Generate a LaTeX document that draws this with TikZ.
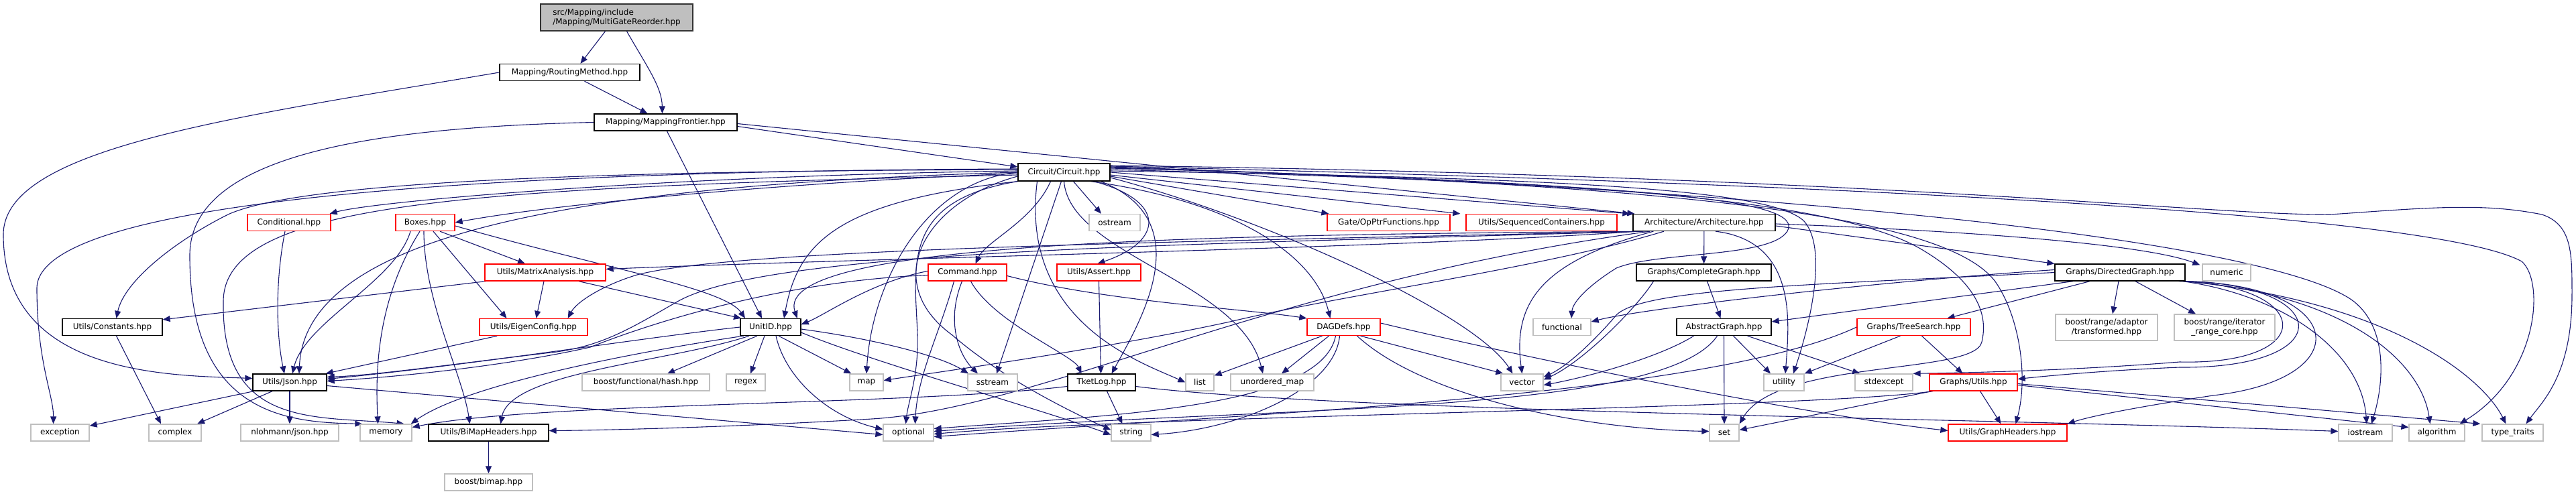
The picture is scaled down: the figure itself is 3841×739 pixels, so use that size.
\documentclass[tikz,border=0pt]{standalone}
\usepackage{fontspec}
\setmainfont{DejaVu Sans}
\usetikzlibrary{arrows.meta,backgrounds}
\definecolor{edgecol}{HTML}{191970}
\definecolor{sysgray}{HTML}{BFBFBF}
\definecolor{rootfill}{HTML}{BFBFBF}
\definecolor{truncred}{HTML}{FF0000}
\tikzset{
  dep/.style={draw=edgecol, line width=1.1pt, -{Triangle[length=11pt,width=9pt]}},
  nbox/.style={draw, line width=1.3pt, fill=white, inner sep=0pt, minimum height=25pt,
    font=\fontsize{12}{14}\selectfont, align=center},
  docbox/.style={nbox, draw=black},
  truncbox/.style={nbox, draw=truncred},
  sysbox/.style={nbox, draw=sysgray},
  rootbox/.style={nbox, draw=black!80, fill=rootfill, align=left, minimum height=40pt},
}
\begin{document}
\begin{tikzpicture}[x=1pt,y=-1pt]
\useasboundingbox (0,0) rectangle (3841,739);
% ---------- nodes ----------
\node[rootbox, minimum width=227pt] (root) at (919.5,26) {src/Mapping/include\\/Mapping/MultiGateReorder.hpp};
\node[docbox, minimum width=209pt] (rm) at (849.5,108) {Mapping/RoutingMethod.hpp};
\node[docbox, minimum width=213pt] (mf) at (992.5,182.5) {Mapping/MappingFrontier.hpp};
\node[docbox, minimum width=137pt, minimum height=26pt] (circ) at (1586.5,257) {Circuit/Circuit.hpp};
\node[truncbox, minimum width=124pt] (cond) at (431,332) {Conditional.hpp};
\node[truncbox, minimum width=88pt] (boxes) at (634,332) {Boxes.hpp};
\node[sysbox, minimum width=76pt] (ostream) at (1662,332) {ostream};
\node[truncbox, minimum width=183pt] (opptr) at (2070.5,332) {Gate/OpPtrFunctions.hpp};
\node[truncbox, minimum width=225pt] (seqc) at (2298.5,332) {Utils/SequencedContainers.hpp};
\node[docbox, minimum width=212pt] (arch) at (2541,332) {Architecture/Architecture.hpp};
\node[truncbox, minimum width=180pt] (matrix) at (813,406.5) {Utils/MatrixAnalysis.hpp};
\node[truncbox, minimum width=117pt] (command) at (1442.5,406.5) {Command.hpp};
\node[truncbox, minimum width=125pt] (assert) at (1638.5,406.5) {Utils/Assert.hpp};
\node[docbox, minimum width=201pt] (complete) at (2540.5,406.5) {Graphs/CompleteGraph.hpp};
\node[docbox, minimum width=194pt] (directed) at (3161,406.5) {Graphs/DirectedGraph.hpp};
\node[sysbox, minimum width=72pt] (numeric) at (3320,406.5) {numeric};
\node[docbox, minimum width=149pt] (constants) at (167.5,488) {Utils/Constants.hpp};
\node[truncbox, minimum width=161pt] (eigen) at (795.5,488) {Utils/EigenConfig.hpp};
\node[docbox, minimum width=90pt] (unitid) at (1149,488) {UnitID.hpp};
\node[truncbox, minimum width=109pt] (dagdefs) at (2003.5,488) {DAGDefs.hpp};
\node[sysbox, minimum width=86pt] (functional) at (2329,488) {functional};
\node[docbox, minimum width=141pt] (abstract) at (2570.5,488) {AbstractGraph.hpp};
\node[truncbox, minimum width=169pt] (treesearch) at (2853.5,488) {Graphs/TreeSearch.hpp};
\node[sysbox, minimum width=152pt, minimum height=39pt] (transformed) at (3141,488.5) {boost/range/adaptor\\/transformed.hpp};
\node[sysbox, minimum width=150pt, minimum height=39pt] (rangecore) at (3317,488.5) {boost/range/iterator\\\_range\_core.hpp};
\node[docbox, minimum width=110pt] (json) at (432,570.5) {Utils/Json.hpp};
\node[sysbox, minimum width=190pt] (hash) at (963,570.5) {boost/functional/hash.hpp};
\node[sysbox, minimum width=58pt] (regex) at (1112,570.5) {regex};
\node[sysbox, minimum width=50pt] (map) at (1292,570.5) {map};
\node[sysbox, minimum width=74pt] (sstream) at (1480,570.5) {sstream};
\node[docbox, minimum width=101pt] (tketlog) at (1642.5,570.5) {TketLog.hpp};
\node[sysbox, minimum width=42pt] (list) at (1789,570.5) {list};
\node[sysbox, minimum width=124pt] (umap) at (1897,570.5) {unordered\_map};
\node[sysbox, minimum width=63pt] (vector) at (2269.5,570.5) {vector};
\node[sysbox, minimum width=60pt] (utility) at (2660,570.5) {utility};
\node[sysbox, minimum width=86pt] (stdexcept) at (2809,570.5) {stdexcept};
\node[truncbox, minimum width=131pt] (gutils) at (2942.5,570.5) {Graphs/Utils.hpp};
\node[sysbox, minimum width=87pt] (exception) at (89.5,645.5) {exception};
\node[sysbox, minimum width=78pt] (complex) at (261,645.5) {complex};
\node[sysbox, minimum width=146pt] (nlohmann) at (432,645.5) {nlohmann/json.hpp};
\node[sysbox, minimum width=77pt] (memory) at (575.5,645.5) {memory};
\node[docbox, minimum width=179pt] (bimap) at (728.5,645.5) {Utils/BiMapHeaders.hpp};
\node[sysbox, minimum width=75pt] (optional) at (1354.5,645.5) {optional};
\node[sysbox, minimum width=59pt] (string) at (1686.5,645.5) {string};
\node[sysbox, minimum width=44pt] (set) at (2571,645.5) {set};
\node[truncbox, minimum width=177pt] (gheaders) at (2993.5,645.5) {Utils/GraphHeaders.hpp};
\node[sysbox, minimum width=80pt] (iostream) at (3527,645.5) {iostream};
\node[sysbox, minimum width=83pt] (algorithm) at (3633.5,645.5) {algorithm};
\node[sysbox, minimum width=91pt] (typetraits) at (3746.5,645.5) {type\_traits};
\node[sysbox, minimum width=131pt] (boostbimap) at (728.5,719.5) {boost/bimap.hpp};
% ---------- edges ----------
\begin{scope}[on background layer]
% root
\draw[dep] ([xshift=-17pt]root.south) -- ([xshift=16pt]rm.north);
\draw[dep] ([xshift=15pt]root.south) .. controls (965,100) and (987,130) .. ([xshift=-5pt]mf.north);
% RoutingMethod
\draw[dep] ([xshift=22pt]rm.south) -- ([xshift=-27pt]mf.north);
\draw[dep] (rm.west) .. controls (350,175) and (5,220) .. (5,350) .. controls (5,560) and (250,560) .. ([yshift=6pt]json.west);
% MappingFrontier
\draw[dep] ([yshift=-6pt]mf.east) -- ([yshift=8pt]circ.west);
\draw[dep] ([yshift=-2pt]mf.east) -- ([xshift=3pt]arch.north west);
\draw[dep] ([xshift=2pt]mf.south) -- ([xshift=-13pt]unitid.north);
\draw[dep] (mf.west) .. controls (560,190) and (284,230) .. (283,380) .. controls (282,620) and (430,630) .. ([xshift=4pt]memory.north west);
% Circuit, west side
\draw[dep] ([yshift=2pt]circ.west) .. controls (1000,262) and (560,300) .. ([xshift=-2pt]cond.north east);
\draw[dep] ([yshift=-2pt]circ.west) .. controls (1250,268) and (850,300) .. (boxes.east);
\draw[dep] ([yshift=4pt]circ.west) .. controls (900,255) and (450,270) .. (340,320) .. controls (260,360) and (185,420) .. ([xshift=6pt]constants.north);
\draw[dep] ([yshift=5pt]circ.west) .. controls (700,255) and (55,300) .. (55,430) .. controls (55,540) and (80,590) .. ([xshift=-10pt]exception.north);
\draw[dep] (circ.west) .. controls (900,275) and (455,340) .. ([xshift=14pt]json.north);
\draw[dep] ([yshift=-4pt]circ.west) .. controls (700,280) and (333,300) .. (333,450) .. controls (330,640) and (470,620) .. ([xshift=-12pt]memory.north east);
\draw[dep] ([yshift=-6pt]circ.west) .. controls (1380,300) and (1310,420) .. (1420,500) .. controls (1500,570) and (1620,625) .. ([yshift=4pt]string.west);
\draw[dep] (circ.west) .. controls (1380,270) and (1300,420) .. (map.north);
\draw[dep] (circ.south west) .. controls (1340,300) and (1365,400) .. (1368,500) .. controls (1370,560) and (1354,600) .. ([xshift=-4pt]optional.north);
% Circuit, south side
\draw[dep] (circ.south west) .. controls (1250,300) and (1190,360) .. ([xshift=20pt]unitid.north);
\draw[dep] ([xshift=-20pt]circ.south) .. controls (1540,330) and (1470,360) .. ([xshift=12pt]command.north);
\draw[dep] ([xshift=14pt]circ.south) -- ([xshift=-20pt]ostream.north);
\draw[dep] ([xshift=45pt]circ.south) .. controls (1740,300) and (1735,360) .. ([xshift=-2pt]assert.north);
\draw[dep] ([xshift=40pt]circ.south) .. controls (1840,300) and (1960,380) .. ([xshift=-20pt]dagdefs.north);
\draw[dep] ([xshift=-4pt]circ.south) -- ([xshift=6pt]sstream.north);
\draw[dep] ([xshift=55pt]circ.south) .. controls (1790,330) and (1700,480) .. ([xshift=15pt]tketlog.north);
\draw[dep] ([xshift=-40pt]circ.south) .. controls (1520,480) and (1700,540) .. (list.west);
\draw[dep] (circ.south) .. controls (1595,380) and (1850,420) .. ([xshift=-14pt]umap.north);
% Circuit, east side
\draw[dep] ([yshift=-6pt]circ.east) -- ([xshift=3pt]opptr.north west);
\draw[dep] ([yshift=-4pt]circ.east) -- ([xshift=-8pt]seqc.north west);
\draw[dep] (circ.east) -- ([xshift=-4pt]arch.north west);
\draw[dep] ([yshift=-8pt]circ.east) .. controls (1900,330) and (2200,470) .. ([xshift=-14pt]vector.north);
\draw[dep] ([yshift=2pt]circ.east) .. controls (2300,265) and (2640,280) .. (2690,330) .. controls (2725,370) and (2700,480) .. ([xshift=14pt]utility.north);
\draw[dep] ([yshift=4pt]circ.east) .. controls (2500,275) and (2690,300) .. (2665,345) .. controls (2640,385) and (2470,375) .. (2410,400) .. controls (2370,425) and (2345,450) .. ([xshift=14pt]functional.north);
\draw[dep] ([yshift=6pt]circ.east) .. controls (2400,270) and (2750,300) .. (2870,375) .. controls (2960,430) and (2962,480) .. (2955,510) .. controls (2945,560) and (2650,535) .. (set.north east);
\draw[dep] ([yshift=7pt]circ.east) .. controls (2500,275) and (2900,320) .. (2975,420) .. controls (3010,470) and (3025,560) .. ([xshift=12pt]gheaders.north);
\draw[dep] ([yshift=8pt]circ.east) .. controls (2900,290) and (3420,380) .. (3510,450) .. controls (3560,490) and (3555,570) .. ([xshift=9pt]iostream.north);
\draw[dep] ([yshift=9pt]circ.east) .. controls (3000,280) and (3650,330) .. (3760,390) .. controls (3795,420) and (3785,560) .. ([xshift=-8pt]algorithm.north east);
\draw[dep] ([yshift=10pt]circ.east) .. controls (2800,262) and (3300,322) .. (3475,320) .. controls (3620,310) and (3700,302) .. (3790,320) .. controls (3836,335) and (3835,380) .. (3835,440) .. controls (3835,560) and (3790,600) .. ([xshift=20pt]typetraits.north);
% Boxes
\draw[dep] ([xshift=-22pt]boxes.south) .. controls (590,420) and (455,480) .. ([xshift=4pt]json.north);
\draw[dep] ([xshift=-8pt]boxes.south) .. controls (560,450) and (560,560) .. ([xshift=-12pt]memory.north);
\draw[dep] ([xshift=-2pt]boxes.south) .. controls (632,450) and (690,560) .. ([xshift=-28pt]bimap.north);
\draw[dep] ([xshift=12pt]boxes.south) -- ([xshift=-40pt]eigen.north);
\draw[dep] ([xshift=22pt]boxes.south) -- ([xshift=-30pt]matrix.north);
\draw[dep] ([yshift=-5pt]boxes.east) .. controls (900,400) and (1080,430) .. ([xshift=-38pt]unitid.north);
% Conditional
\draw[dep] ([xshift=-6pt]cond.south) .. controls (410,420) and (412,500) .. ([xshift=-8pt]json.north);
% MatrixAnalysis
\draw[dep] ([xshift=2pt]matrix.south west) -- ([yshift=-2pt]constants.north east);
\draw[dep] ([xshift=-2pt]matrix.south) -- ([xshift=4pt]eigen.north);
\draw[dep] ([xshift=50pt]matrix.south) -- ([xshift=-44pt]unitid.north);
% EigenConfig, Constants
\draw[dep] ([xshift=27pt]eigen.south west) -- ([xshift=-2pt]json.north east);
\draw[dep] ([xshift=6pt]constants.south) -- ([xshift=-21pt]complex.north);
% Json
\draw[dep] ([xshift=2pt]json.south west) -- ([yshift=-3pt]exception.north east);
\draw[dep] ([xshift=-26pt]json.south) -- ([xshift=33pt]complex.north);
\draw[dep] (json.south) -- (nlohmann.north);
\draw[dep] ([yshift=-5pt]json.east) -- ([yshift=-3pt]optional.west);
% BiMapHeaders
\draw[dep] (bimap.south) -- (boostbimap.north);
% UnitID
\draw[dep] (unitid.west) .. controls (950,505) and (700,545) .. ([yshift=5pt]json.east);
\draw[dep] ([xshift=-20pt]unitid.south) -- ([xshift=32pt]hash.north);
\draw[dep] ([xshift=-9pt]unitid.south) -- ([xshift=7pt]regex.north);
\draw[dep] ([xshift=12pt]unitid.south) -- ([xshift=3pt]map.north west);
\draw[dep] ([xshift=-40pt]unitid.south) .. controls (980,520) and (700,570) .. ([xshift=-2pt]memory.north east);
\draw[dep] ([xshift=-32pt]unitid.south) .. controls (1000,540) and (760,555) .. ([xshift=18pt]bimap.north);
\draw[dep] ([xshift=8pt]unitid.south) .. controls (1170,560) and (1230,620) .. ([yshift=5pt]optional.west);
\draw[dep] ([yshift=-3pt]unitid.east) .. controls (1300,505) and (1400,530) .. ([xshift=-36pt]sstream.north);
\draw[dep] ([yshift=-8pt]unitid.east) .. controls (1300,540) and (1550,610) .. ([yshift=-3pt]string.west);
% TketLog
\draw[dep] ([yshift=-6pt]tketlog.west) .. controls (1350,605) and (800,600) .. ([yshift=8pt]memory.east);
\draw[dep] ([xshift=8pt]tketlog.south) -- ([xshift=-13pt]string.north);
\draw[dep] ([yshift=-6pt]tketlog.east) .. controls (2000,615) and (3000,625) .. ([yshift=2pt]iostream.west);
% Assert
\draw[dep] (assert.south) -- ([xshift=-1pt]tketlog.north);
% Command
\draw[dep] ([yshift=-4pt]command.west) .. controls (1150,420) and (950,490) .. (880,518) .. controls (760,545) and (600,562) .. ([yshift=2pt]json.east);
\draw[dep] ([yshift=2pt]command.west) .. controls (1300,420) and (1230,470) .. ([yshift=4pt]unitid.east);
\draw[dep] ([xshift=-8pt]command.south) .. controls (1410,480) and (1430,530) .. ([xshift=-22pt]sstream.north);
\draw[dep] ([xshift=-20pt]command.south) .. controls (1400,500) and (1368,560) .. ([xshift=10pt]optional.north);
\draw[dep] ([xshift=5pt]command.south) .. controls (1480,480) and (1600,530) .. ([xshift=-30pt]tketlog.north);
\draw[dep] ([yshift=-5pt]command.east) .. controls (1650,450) and (1850,460) .. (dagdefs.north west);
% DAGDefs
\draw[dep] ([xshift=-32pt]dagdefs.south) -- ([yshift=-3pt]list.north east);
\draw[dep] ([xshift=-22pt]dagdefs.south) -- ([xshift=14pt]umap.north);
\draw[dep] ([xshift=25pt]dagdefs.south) -- ([xshift=4pt]vector.north west);
\draw[dep] ([xshift=-6pt]dagdefs.south) .. controls (1990,580) and (1850,640) .. ([yshift=-3pt]string.east);
\draw[dep] ([xshift=-12pt]dagdefs.south) .. controls (1970,610) and (1650,620) .. ([yshift=6pt]optional.east);
\draw[dep] ([xshift=20pt]dagdefs.south) .. controls (2120,590) and (2350,640) .. ([yshift=2pt]set.west);
\draw[dep] ([yshift=6pt]dagdefs.east) .. controls (2300,540) and (2700,620) .. ([yshift=3pt]gheaders.west);
% Architecture
\draw[dep] (arch) -- (complete);
\draw[dep] ([yshift=-5pt]arch.east) -- (directed.north west);
\draw[dep] ([yshift=-2pt]arch.east) .. controls (2950,345) and (3200,365) .. ([xshift=-3pt,yshift=-2pt]numeric.north west);
\draw[dep] ([xshift=6pt]arch.south west) .. controls (2100,370) and (1300,385) .. ([yshift=5pt]matrix.east);
\draw[dep] ([xshift=11pt]arch.south west) .. controls (1800,365) and (1150,370) .. (1010,450) .. controls (940,490) and (900,515) .. (830,525) .. controls (700,540) and (560,560) .. ([yshift=8pt]json.east);
\draw[dep] ([xshift=16pt]arch.south west) .. controls (1800,360) and (1100,370) .. (950,410) .. controls (900,425) and (860,450) .. ([xshift=-30pt]eigen.north east);
\draw[dep] ([xshift=21pt]arch.south west) .. controls (1800,350) and (1150,360) .. ([xshift=-6pt]unitid.north east);
\draw[dep] ([xshift=26pt]arch.south west) .. controls (1900,420) and (1550,610) .. (1300,625) .. controls (1100,637) and (900,642) .. ([yshift=3pt]bimap.east);
\draw[dep] ([xshift=31pt]arch.south west) .. controls (2300,390) and (2255,450) .. (vector.north);
\draw[dep] ([xshift=-60pt]arch.south) .. controls (2300,400) and (2000,440) .. (1834,480) .. controls (1650,520) and (1400,555) .. ([yshift=3pt]map.east);
\draw[dep] ([xshift=17pt]arch.south) .. controls (2680,360) and (2668,480) .. ([xshift=2pt]utility.north);
% CompleteGraph
\draw[dep] ([xshift=-75pt]complete.south) .. controls (2440,460) and (2360,540) .. ([yshift=4pt]vector.east);
\draw[dep] ([xshift=5pt]complete.south) -- ([xshift=-5pt]abstract.north);
% DirectedGraph
\draw[dep] ([xshift=-70pt]directed.south) -- ([yshift=8pt]abstract.east);
\draw[dep] ([xshift=-45pt]directed.south) -- ([xshift=50pt]treesearch.north);
\draw[dep] ([xshift=-2pt]directed.south) -- ([xshift=9pt]transformed.north);
\draw[dep] ([xshift=23pt]directed.south) -- ([xshift=-43pt]rangecore.north);
\draw[dep] ([yshift=4pt]directed.west) .. controls (2800,420) and (2450,460) .. ([yshift=8pt]functional.east);
\draw[dep] (directed.west) .. controls (2700,425) and (2450,430) .. (2410,470) .. controls (2385,500) and (2340,545) .. ([yshift=8pt]vector.east);
\draw[dep] ([xshift=-10pt]directed.south east) .. controls (3450,425) and (3460,545) .. (3250,540) .. controls (3100,552) and (2950,556) .. (stdexcept.north east);
\draw[dep] (directed.south east) .. controls (3480,425) and (3490,550) .. (3250,548) .. controls (3150,552) and (3060,560) .. ([yshift=5pt]gutils.east);
\draw[dep] (directed.south east) .. controls (3500,425) and (3520,565) .. (3300,590) .. controls (3200,605) and (3120,620) .. (gheaders.north east);
\draw[dep] ([xshift=-4pt]directed.south east) .. controls (3400,440) and (3520,520) .. ([xshift=2pt]iostream.north);
\draw[dep] (directed.south east) .. controls (3500,440) and (3610,540) .. ([xshift=-10pt]algorithm.north);
\draw[dep] (directed.south east) .. controls (3560,450) and (3700,560) .. ([xshift=-10pt]typetraits.north);
% AbstractGraph
\draw[dep] ([xshift=14pt]abstract.south) -- ([xshift=-20pt]utility.north);
\draw[dep] ([xshift=35pt]abstract.south) -- ([xshift=-36pt]stdexcept.north);
\draw[dep] (abstract.south) -- (set.north);
\draw[dep] ([xshift=-45pt]abstract.south) .. controls (2480,530) and (2380,560) .. ([yshift=-4pt]vector.east);
\draw[dep] ([xshift=-10pt]abstract.south) .. controls (2480,620) and (1900,605) .. ([yshift=2pt]optional.east);
% TreeSearch
\draw[dep] ([xshift=-20pt]treesearch.south) -- (utility.north east);
\draw[dep] ([xshift=12pt]treesearch.south) -- ([xshift=-16pt]gutils.north);
\draw[dep] (treesearch.west) .. controls (2550,590) and (1900,615) .. ([yshift=-6pt]optional.east);
% Graphs/Utils
\draw[dep] ([xshift=10pt]gutils.south) -- ([xshift=-10pt]gheaders.north);
\draw[dep] ([xshift=4pt]gutils.south west) -- ([yshift=4pt]set.east);
\draw[dep] ([yshift=-4pt]gutils.east) -- ([yshift=8pt]algorithm.west);
\draw[dep] ([yshift=-2pt]gutils.east) -- ([xshift=-2pt]typetraits.north west);
\draw[dep] ([xshift=6pt]gutils.south west) .. controls (2700,610) and (1700,620) .. ([yshift=-2pt]optional.east);
\end{scope}
\end{tikzpicture}
\end{document}
